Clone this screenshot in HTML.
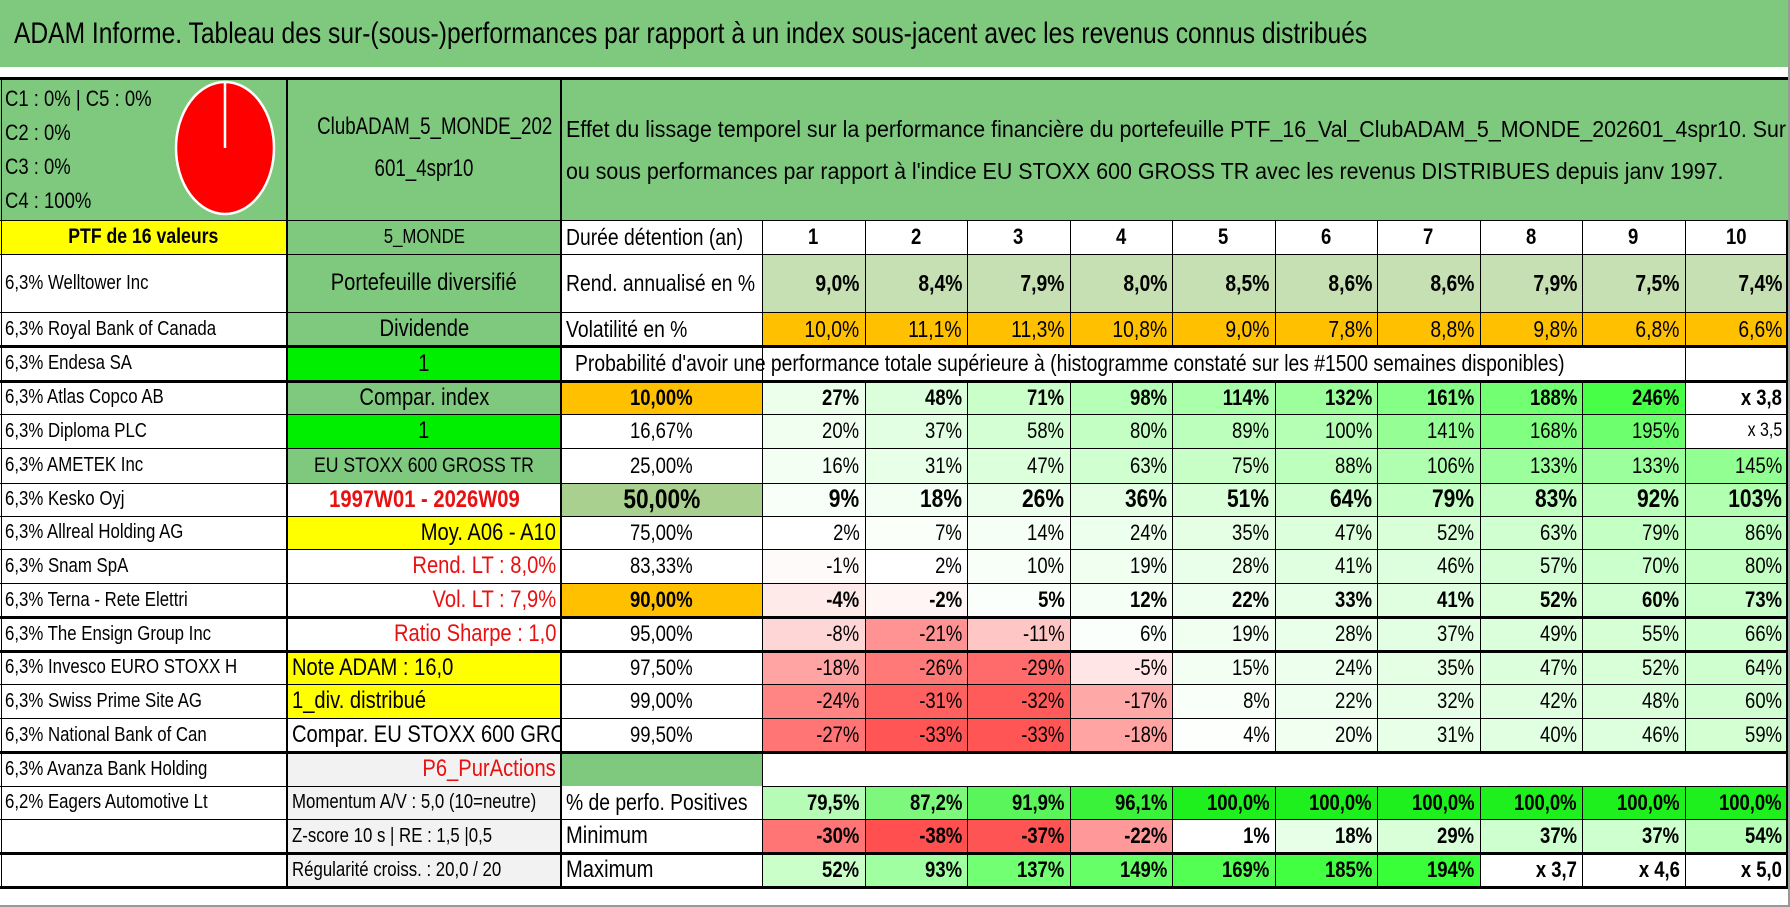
<!DOCTYPE html>
<html><head><meta charset="utf-8">
<style>
html,body{margin:0;padding:0;background:#fff;}
#root{position:relative;width:1790px;height:907px;overflow:hidden;font-family:"Liberation Sans",sans-serif;color:#000;}
.c{position:absolute;box-sizing:border-box;display:flex;align-items:center;white-space:nowrap;overflow:hidden;font-size:22px;padding:0 5px;}
.c > span{display:inline-block;transform:scaleX(0.84);transform-origin:left center;}
.ln{position:absolute;background:#000;}
.blk span{display:block;transform:scaleX(0.84);transform-origin:left center;white-space:nowrap;}
</style></head>
<body>
<div id="root">
<div class="c" style="left:0;top:0;width:1790px;height:67px;background:#7fc97f;font-size:30px;padding-left:14px;"><span style="transform:scaleX(0.82)">ADAM Informe. Tableau des sur-(sous-)performances par rapport à un index sous-jacent avec les revenus connus distribués</span></div>
<div class="c blk" style="left:0;top:78px;width:287px;height:142px;background:#7fc97f;display:block;font-size:22px;line-height:34px;padding-top:4px;"><span>C1 : 0% | C5 : 0%</span><span>C2 : 0%</span><span>C3 : 0%</span><span>C4 : 100%</span></div>
<svg style="position:absolute;left:170px;top:78px;" width="112" height="142"><ellipse cx="55" cy="70" rx="49" ry="66" fill="#ff0000" stroke="#fff" stroke-width="2.5"/><line x1="55" y1="4" x2="55" y2="70" stroke="#fff" stroke-width="2.5"/></svg>
<div class="c blk" style="left:287px;top:78px;width:274px;height:142px;background:#7fc97f;display:block;font-size:24px;line-height:42px;padding-top:28px;padding-left:0;"><span style="transform:scaleX(0.78);transform-origin:center center;text-align:center;width:274px;">ClubADAM_5_MONDE_202</span><span style="transform:scaleX(0.78);transform-origin:center center;text-align:center;width:274px;">601_4spr10</span></div>
<div class="c blk" style="left:561px;top:78px;width:1227px;height:142px;background:#7fc97f;display:block;font-size:23.5px;line-height:42px;padding-top:30px;"><span style="transform:scaleX(0.91)">Effet du lissage temporel sur la performance financière du portefeuille PTF_16_Val_ClubADAM_5_MONDE_202601_4spr10. Sur</span><span style="transform:scaleX(0.91)">ou sous performances par rapport à l'indice EU STOXX 600 GROSS TR avec les revenus DISTRIBUES depuis janv 1997.</span></div>
</div>
<script>
const holdYears=[1,2,3,4,5,6,7,8,9,10];
const rendValues=[9.0,8.4,7.9,8.0,8.5,8.6,8.6,7.9,7.5,7.4];
const volValues=[10.0,11.1,11.3,10.8,9.0,7.8,8.8,9.8,6.8,6.6];
const thresholds=["10,00%","16,67%","25,00%","50,00%","75,00%","83,33%","90,00%","95,00%","97,50%","99,00%","99,50%"];
const probRow1=[27,48,71,98,114,132,161,188,246,380];
const probRow2=[20,37,58,80,89,100,141,168,195,350];
const probRow3=[16,31,47,63,75,88,106,133,133,145];
const probRow4=[9,18,26,36,51,64,79,83,92,103];
const probRow5=[2,7,14,24,35,47,52,63,79,86];
const probRow6=[-1,2,10,19,28,41,46,57,70,80];
const probRow7=[-4,-2,5,12,22,33,41,52,60,73];
const probRow8=[-8,-21,-11,6,19,28,37,49,55,66];
const probRow9=[-18,-26,-29,-5,15,24,35,47,52,64];
const probRow10=[-24,-31,-32,-17,8,22,32,42,48,60];
const probRow11=[-27,-33,-33,-18,4,20,31,40,46,59];
const positives=[79.5,87.2,91.9,96.1,100,100,100,100,100,100];
const minimums=[-30,-38,-37,-22,1,18,29,37,37,54];
const maximums=[52,93,137,149,169,185,194,370,460,500];
const holdings=["6,3% Welltower Inc","6,3% Royal Bank of Canada","6,3% Endesa SA","6,3% Atlas Copco AB","6,3% Diploma PLC","6,3% AMETEK Inc","6,3% Kesko Oyj","6,3% Allreal Holding AG","6,3% Snam SpA","6,3% Terna - Rete Elettri","6,3% The Ensign Group Inc","6,3% Invesco EURO STOXX H","6,3% Swiss Prime Site AG","6,3% National Bank of Can","6,3% Avanza Bank Holding","6,2% Eagers Automotive Lt"];
const probRows=[probRow1,probRow2,probRow3,probRow4,probRow5,probRow6,probRow7,probRow8,probRow9,probRow10,probRow11];

const root=document.getElementById('root');
const rowY=[220,254,312,346,381,414,448,483,516,549,583,617,651,684,718,752,786,819,853,887];
const cw=102.5;
function colX(i){return 762+i*cw;}
function cell(name,x,y,w,h,text,css){
  const el=document.createElement('div');
  el.className='c';
  
  
  el.style.cssText='left:'+x+'px;top:'+y+'px;width:'+w+'px;height:'+h+'px;'+(css||'');
  if(text){
    const s=document.createElement('span');
    s.textContent=text;
    const jc=el.style.justifyContent;
    if(jc==='center')s.style.transformOrigin='center center';
    else if(jc==='flex-end')s.style.transformOrigin='right center';
    el.appendChild(s);
  }
  root.appendChild(el);
  return el;
}
function mix(a,b,t){t=Math.max(0,Math.min(1,t));return 'rgb('+a.map((v,i)=>Math.round(v+(b[i]-v)*t)).join(',')+')';}
const W=[255,255,255],G=[30,255,30],R=[255,70,70];
function heat(v,gmax,rmin){if(v>=300)return '#fff';return v>=0?mix(W,G,v/gmax):mix(W,R,v/rmin);}
function pct(v){return v>=300?('x '+(v/100).toFixed(1).replace('.',',')):v+'%';}

holdings.forEach((h,i)=>{cell('holding-'+(i+1),0,rowY[i+1],287,rowY[i+2]-rowY[i+1],h,'font-size:20px;');});
cell('portfolio-size',0,rowY[0],287,34,'PTF de 16 valeurs','background:#ffff00;justify-content:center;font-weight:bold;font-size:21px;');
const bCells=[
 ['region','5_MONDE','background:#7fc97f;justify-content:center;font-size:20px;'],
 ['portfolio-type','Portefeuille diversifié','background:#7fc97f;justify-content:center;font-size:24px;'],
 ['dividend-label','Dividende','background:#7fc97f;justify-content:center;font-size:24px;'],
 ['dividend-flag','1','background:#00ee00;justify-content:center;font-size:24px;'],
 ['compare-index-label','Compar. index','background:#7fc97f;justify-content:center;font-size:24px;'],
 ['compare-flag','1','background:#00ee00;justify-content:center;font-size:24px;'],
 ['index-name','EU STOXX 600 GROSS TR','background:#7fc97f;justify-content:center;font-size:21px;'],
 ['date-range','1997W01 - 2026W09','justify-content:center;font-size:24px;color:#e81010;font-weight:bold;'],
 ['average-years','Moy. A06 - A10','background:#ffff00;justify-content:flex-end;font-size:24px;'],
 ['long-term-return','Rend. LT : 8,0%','justify-content:flex-end;font-size:24px;color:#e81010;'],
 ['long-term-vol','Vol. LT : 7,9%','justify-content:flex-end;font-size:24px;color:#e81010;'],
 ['sharpe-ratio','Ratio Sharpe : 1,0','justify-content:flex-end;font-size:24px;color:#e81010;'],
 ['adam-score','Note ADAM : 16,0','background:#ffff00;font-size:24px;'],
 ['dividend-distributed','1_div. distribué','background:#ffff00;font-size:24px;'],
 ['compare-text','Compar. EU STOXX 600 GROSS TR','font-size:24px;'],
 ['strategy','P6_PurActions','background:#f2f2f2;justify-content:flex-end;font-size:24px;color:#e81010;'],
 ['momentum','Momentum A/V : 5,0 (10=neutre)','background:#f2f2f2;font-size:20px;'],
 ['z-score','Z-score 10 s | RE : 1,5 |0,5','background:#f2f2f2;font-size:20px;'],
 ['regularity','Régularité croiss. : 20,0 / 20','background:#f2f2f2;font-size:20px;']
];
bCells.forEach((b,i)=>{cell(b[0],287,rowY[i],274,rowY[i+1]-rowY[i],b[1],b[2]);});
cell('duration-label',561,rowY[0],201,34,'Durée détention (an)','font-size:23px;');
cell('return-label',561,rowY[1],201,58,'Rend. annualisé en %','font-size:23px;');
cell('volatility-label',561,rowY[2],201,34,'Volatilité en %','font-size:23px;');
cell('probability-header',561,rowY[3],1124,35,"Probabilité d'avoir une performance totale supérieure à (histogramme constaté sur les #1500 semaines disponibles)",'font-size:23px;padding-left:14px;');
thresholds.forEach((t,i)=>{
  const bg=i===0||i===6?'background:#ffc000;':(i===3?'background:#a9d08e;':'');
  const fs=i===3?'font-size:27px;':'';
  const fw=(i===0||i===3||i===6)?'font-weight:bold;':'';
  cell('threshold-'+(i+1),561,rowY[i+4],201,rowY[i+5]-rowY[i+4],t,'justify-content:center;'+bg+fs+fw);
});
cell('strategy-fill',561,rowY[15],201,34,'','background:#7fc97f;');
cell('positives-label',561,rowY[16],201,33,'% de perfo. Positives','font-size:23px;');
cell('minimum-label',561,rowY[17],201,34,'Minimum','font-size:24px;');
cell('maximum-label',561,rowY[18],201,34,'Maximum','font-size:24px;');
holdYears.forEach((y,i)=>{
  const x=colX(i);
  cell('year-'+y,x,rowY[0],cw,34,String(y),'justify-content:center;font-weight:bold;font-size:22px;');
  cell('return-y'+y,x,rowY[1],cw,58,rendValues[i].toFixed(1).replace('.',',')+'%','justify-content:flex-end;background:#c6e0b4;font-weight:bold;font-size:23px;');
  cell('volatility-y'+y,x,rowY[2],cw,34,volValues[i].toFixed(1).replace('.',',')+'%','justify-content:flex-end;background:#ffc000;font-size:23px;');
  probRows.forEach((row,r)=>{
    const v=row[i];
    const bold=(r===0||r===3||r===6)?'font-weight:bold;':'';
    const fs=r===3?'font-size:25px;':(r===1&&v>=300?'font-size:19px;':'');
    cell('prob-r'+(r+1)+'-y'+y,x,rowY[r+4],cw,rowY[r+5]-rowY[r+4],pct(v),'justify-content:flex-end;background:'+heat(v,300,-36)+';'+bold+fs);
  });
  cell('positives-y'+y,x,rowY[16],cw,33,positives[i].toFixed(1).replace('.',',')+'%','justify-content:flex-end;font-weight:bold;background:'+mix([215,255,215],[30,240,30],(positives[i]-75)/25)+';');
  cell('minimum-y'+y,x,rowY[17],cw,34,pct(minimums[i]),'justify-content:flex-end;font-weight:bold;background:'+heat(minimums[i],170,-40)+';');
  cell('maximum-y'+y,x,rowY[18],cw,34,pct(maximums[i]),'justify-content:flex-end;font-weight:bold;background:'+heat(maximums[i],220,-40)+';');
});
cell('prob-header-end',colX(9),rowY[3],cw,35,'','');
function hl(y,x1,x2,t){const e=document.createElement('div');e.className='ln';e.style.cssText='left:'+x1+'px;top:'+(y-Math.floor(t/2))+'px;width:'+(x2-x1)+'px;height:'+t+'px;';root.appendChild(e);}
function vl(x,y1,y2,t){const e=document.createElement('div');e.className='ln';e.style.cssText='left:'+(x-Math.floor(t/2))+'px;top:'+y1+'px;width:'+t+'px;height:'+(y2-y1)+'px;';root.appendChild(e);}
hl(78,0,1788,3);
const thick=[346,381,617,651,752,853,887];
rowY.forEach(y=>{
  const t=thick.includes(y)?3:1;
  if(y===786){hl(y,0,561,1);hl(y,762,1788,1);}
  else hl(y,0,1788,t);
});
vl(287,78,887,2);vl(561,78,887,2);
vl(762,220,887,1);
for(let i=1;i<=10;i++){
  if(i<10){vl(colX(i),rowY[0],rowY[3],1);vl(colX(i),rowY[4],rowY[15],1);vl(colX(i),rowY[16],887,1);}
  else {vl(colX(i),rowY[0],887,2);}
}
vl(colX(9),rowY[3],rowY[4],1);
vl(1,78,887,1);
const fr=document.createElement('div');


fr.style.cssText='position:absolute;left:0;top:0;width:1790px;height:907px;box-sizing:border-box;border-right:2px solid #999;border-bottom:2px solid #999;pointer-events:none;';
root.appendChild(fr);
</script>
</body></html>
